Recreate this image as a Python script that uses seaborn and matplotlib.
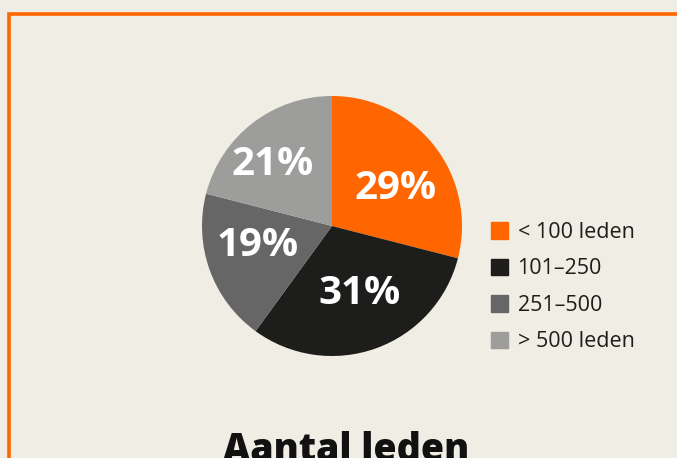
import matplotlib
matplotlib.use('Agg')
import matplotlib.pyplot as plt
import matplotlib.patches as mpatches
import seaborn as sns

# data
categories = ['< 100 leden', '101–250', '251–500', '> 500 leden']
shares = [29, 31, 19, 21]
colors = ['#ff6600', '#1d1d1b', '#666666', '#9d9d9c']
title = 'Aantal leden'

# where the percentage labels sit inside the pie (fraction of radius)
label_pos = [(0.485, 0.29), (0.215, -0.52), (-0.575, -0.15), (-0.46, 0.47)]

bg = '#efede4'

sns.set_style('white')
plt.rcParams['font.family'] = ['Open Sans', 'DejaVu Sans']

fig = plt.figure(figsize=(6.77, 4.58), dpi=100, facecolor=bg)
W, H = 677, 458

# orange frame, runs off the right and bottom edges
frame = mpatches.Rectangle((9 / W, -0.2), 1.2, (H - 14) / H + 0.2, transform=fig.transFigure,
                           fill=False, edgecolor='#ff6600', linewidth=2.6)
fig.patches.append(frame)

# pie axes: center (332, 226), radius 130 px
ax = fig.add_axes([202 / W, (H - 356) / H, 260 / W, 260 / H])
ax.set_facecolor(bg)
wedges, _, autotexts = ax.pie(shares, colors=colors, startangle=90, counterclock=False,
                              autopct='%d%%', pctdistance=0.6, radius=1,
                              wedgeprops=dict(linewidth=0))
for t, p in zip(autotexts, label_pos):
    t.set_position(p)
    t.set_color('white')
    t.set_fontsize(29)
    t.set_fontweight('bold')
ax.set_xlim(-1, 1)
ax.set_ylim(-1, 1)
ax.axis('off')

handles = [mpatches.Patch(color=c, label=l) for c, l in zip(colors, categories)]
leg = fig.legend(handles=handles, loc='center left', bbox_to_anchor=(482 / W, (H - 287) / H),
                 frameon=False, fontsize=15.5, handlelength=0.8, handleheight=0.8,
                 handletextpad=0.45, labelspacing=0.72, borderaxespad=0)
for t in leg.get_texts():
    t.set_color('#1d1d1b')

fig.text(346 / W, (H - 431) / H, title, ha='center', va='top', fontsize=27,
         fontweight=800, color='#111111')

fig.savefig('out.png', dpi=100, facecolor=bg)
